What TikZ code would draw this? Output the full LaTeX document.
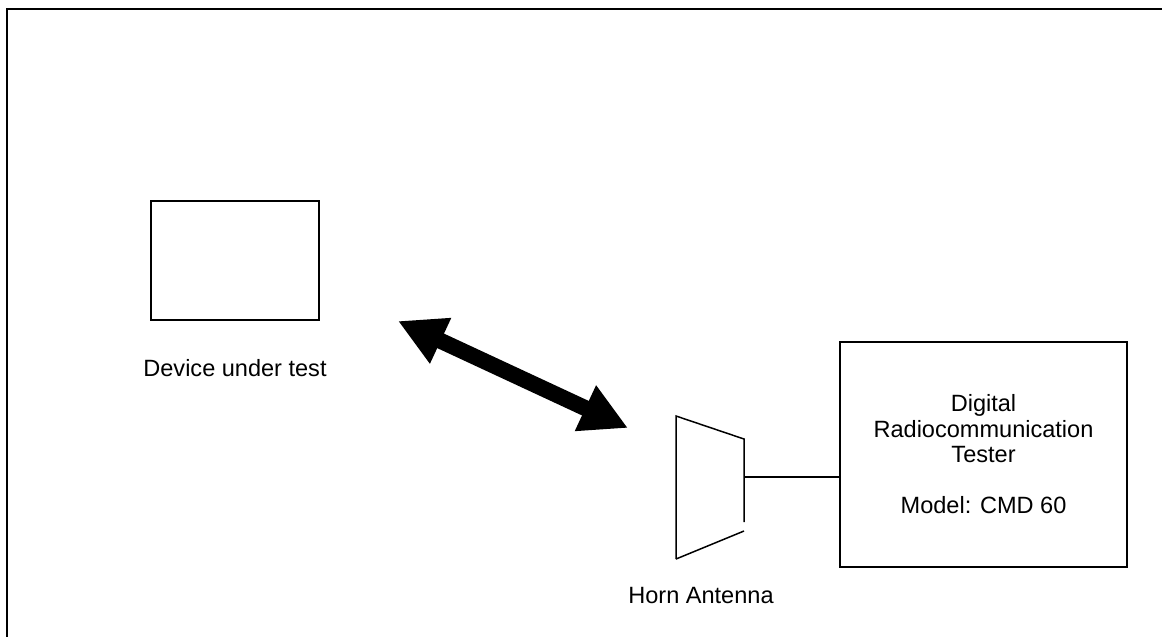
\documentclass[tikz,border=0pt]{standalone}
\usepackage{fontspec}
\setmainfont{Liberation Sans}
\usepackage{tikz}
\usetikzlibrary{positioning,arrows.meta}

\begin{document}
\begin{tikzpicture}[
  x=0.02cm, y=-0.02cm,
  font=\fontsize{13.4pt}{14.5pt}\selectfont,
  device/.style={draw, line width=1.1pt, rectangle, minimum width=3.36cm, minimum height=2.38cm},
  tester/.style={draw, line width=0.85pt, rectangle, minimum width=5.74cm, minimum height=4.5cm, align=center},
  caption/.style={inner sep=0pt},
  horn/.style={line width=0.85pt},
  wave/.style={line width=0.32cm, {Triangle[length=0.94cm, width=0.94cm]}-{Triangle[length=0.94cm, width=0.94cm]}}
]
\useasboundingbox (0,0) rectangle (1162,637);

% Frame
\draw[line width=1.1pt] (1162,9) -| (7,637);

% Device under test
\node[device] (dut) at (235,260.5) {};
\node[caption, below=0.76cm of dut] (dutlabel) {Device under test};

% Radio link
\coordinate (waveA) at (398,321);
\coordinate (waveB) at (628,428);
\draw[wave] (waveA) -- (waveB);

% Horn antenna
\draw[horn] (676,559) -- (676,416) -- (744,439) -- (744,522);
\draw[horn] (676,559) -- (744,531);
\coordinate (hornport) at (744,477);
\node[caption, anchor=base] (hornlabel) at (701,603) {Horn Antenna};

% Tester
\node[tester] (cmd) at (983.5,454.5) {Digital\\Radiocommunication\\Tester\\[14.5pt]Model: CMD 60};
\draw[horn] (hornport) -- (hornport -| cmd.west);

\end{tikzpicture}
\end{document}
